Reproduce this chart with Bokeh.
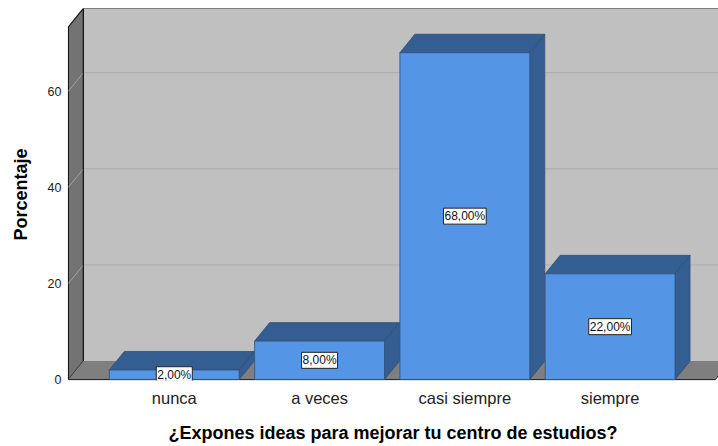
from bokeh.plotting import figure
from bokeh.models import Range1d, FixedTicker, Label
from bokeh.embed import file_html
from bokeh.resources import INLINE

# ---- data ----
categories = ["nunca", "a veces", "casi siempre", "siempre"]
percentages = [2.0, 8.0, 68.0, 22.0]
value_labels = ["2,00%", "8,00%", "68,00%", "22,00%"]
y_ticks = [0, 20, 40, 60]
x_title = "¿Expones ideas para mejorar tu centro de estudios?"
y_title = "Porcentaje"

# ---- geometry (data units) ----
X_LO, X_HI = -0.735, 3.746
Y_LO, Y_HI = -0.2, 77.2
WALL_X = -0.7285       # front edge of the left wall
FLOOR_R = 3.725        # front right end of the floor
DX, DY = 0.103, 3.84   # depth offset
HALF = 0.447           # half bar width
WALL_TOP = 73.4

FONT = "Liberation Sans"

p = figure(width=718, height=446,
           x_range=Range1d(X_LO, X_HI), y_range=Range1d(Y_LO, Y_HI),
           output_backend="svg", toolbar_location=None,
           min_border_left=67, min_border_right=0,
           min_border_top=8, min_border_bottom=66)
p.outline_line_color = None
p.grid.visible = False
p.background_fill_color = "white"
p.border_fill_color = "white"

# back wall
p.patch([WALL_X + DX, FLOOR_R + DX + 1, FLOOR_R + DX + 1, WALL_X + DX],
        [DY, DY, WALL_TOP + DY, WALL_TOP + DY],
        fill_color="#C0C0C0", line_color=None)
p.segment(x0=[WALL_X + DX], y0=[WALL_TOP + DY], x1=[X_HI + 1], y1=[WALL_TOP + DY],
          line_color="#1a1a1a", line_width=1.5)
# left wall
p.patch([WALL_X, WALL_X + DX, WALL_X + DX, WALL_X],
        [0, DY, WALL_TOP + DY, WALL_TOP],
        fill_color="#737373", line_color="#1a1a1a", line_width=1.2)

# gridlines on walls
g_lines = [t for t in y_ticks if t > 0]
p.segment(x0=[WALL_X] * len(g_lines), y0=g_lines,
          x1=[WALL_X + DX] * len(g_lines), y1=[g + DY for g in g_lines],
          line_color="#A0A0A0", line_width=1)
p.segment(x0=[WALL_X + DX] * len(g_lines), y0=[g + DY for g in g_lines],
          x1=[X_HI + 1] * len(g_lines), y1=[g + DY for g in g_lines],
          line_color="#ABABAB", line_width=1)

# floor
p.patch([WALL_X, FLOOR_R, FLOOR_R + DX, WALL_X + DX],
        [0, 0, DY, DY], fill_color="#7F7F7F", line_color=None)
p.segment(x0=[WALL_X + DX], y0=[DY], x1=[WALL_X + DX], y1=[WALL_TOP + DY],
          line_color="#1a1a1a", line_width=1.2)
p.segment(x0=[WALL_X], y0=[0], x1=[FLOOR_R], y1=[0],
          line_color="#2a2a2a", line_width=1.2)
p.segment(x0=[FLOOR_R], y0=[0], x1=[FLOOR_R + DX], y1=[DY],
          line_color="#2a2a2a", line_width=1)

# bars
xs = list(range(len(categories)))
FRONT = "#5595E5"
DARK = "#345D91"
EDGE = "#2E4F7A"
for i, v in zip(xs, percentages):
    p.patch([i - HALF, i + HALF, i + HALF + DX, i - HALF + DX],
            [v, v, v + DY, v + DY], fill_color=DARK, line_color=EDGE, line_width=0.8)
    p.patch([i + HALF, i + HALF + DX, i + HALF + DX, i + HALF],
            [0, DY, v + DY, v], fill_color=DARK, line_color=EDGE, line_width=0.8)
p.quad(left=[i - HALF for i in xs], right=[i + HALF for i in xs],
       bottom=[0] * len(xs), top=percentages,
       fill_color=FRONT, line_color=EDGE, line_width=0.8)

for i, v, t in zip(xs, percentages, value_labels):
    p.add_layout(Label(x=i, y=v / 2, text=t, text_align="center", text_baseline="middle",
                       text_font=FONT, text_font_size="12px", text_color="#111111",
                       background_fill_color="white", border_line_color="#222222",
                       border_line_width=1, padding=1))

# axes
p.yaxis.ticker = FixedTicker(ticks=y_ticks)
p.yaxis.axis_line_color = None
p.yaxis.major_tick_line_color = None
p.yaxis.minor_tick_line_color = None
p.yaxis.major_tick_out = 0
p.yaxis.major_label_text_font = FONT
p.yaxis.major_label_text_font_size = "12.5px"
p.yaxis.major_label_text_color = "#222222"
p.yaxis.major_label_standoff = 6
p.yaxis.axis_label = y_title
p.yaxis.axis_label_text_font = FONT
p.yaxis.axis_label_text_font_size = "18px"
p.yaxis.axis_label_text_font_style = "bold"
p.yaxis.axis_label_text_color = "#000000"
p.yaxis.axis_label_standoff = 14

p.xaxis.ticker = FixedTicker(ticks=xs)
p.xaxis.major_label_overrides = {i: c for i, c in zip(xs, categories)}
p.xaxis.axis_line_color = None
p.xaxis.major_tick_line_color = None
p.xaxis.minor_tick_line_color = None
p.xaxis.major_tick_out = 0
p.xaxis.major_label_text_font = FONT
p.xaxis.major_label_text_font_size = "16.5px"
p.xaxis.major_label_text_color = "#222222"
p.xaxis.major_label_standoff = 8
p.xaxis.axis_label = x_title
p.xaxis.axis_label_text_font = FONT
p.xaxis.axis_label_text_font_size = "18px"
p.xaxis.axis_label_text_font_style = "bold"
p.xaxis.axis_label_text_color = "#000000"
p.xaxis.axis_label_standoff = 13

open("out.html", "w").write(file_html(p, INLINE))
